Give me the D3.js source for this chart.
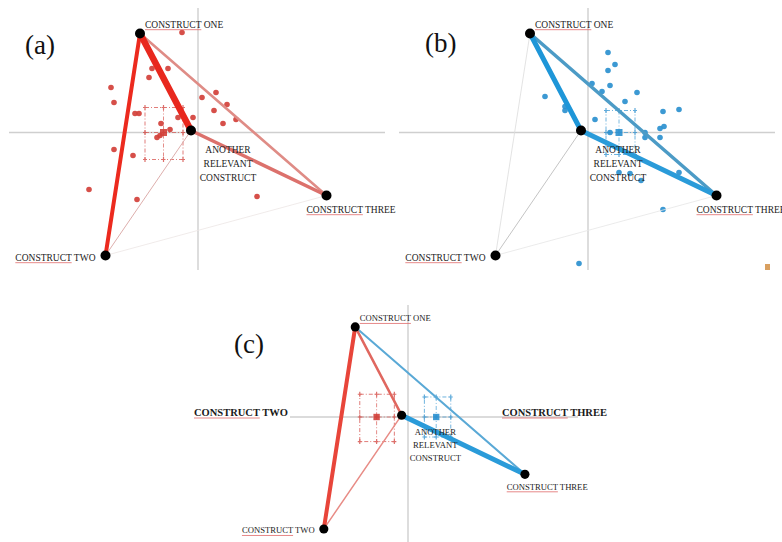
<!DOCTYPE html>
<html><head><meta charset="utf-8">
<script src="https://cdn.jsdelivr.net/npm/d3@7"></script>
<style>html,body{margin:0;padding:0;background:#fff;}svg{display:block;}</style>
</head><body>
<svg id="chart" width="782" height="542"></svg>
<script>
// ---------- data ----------
const constructs = ["CONSTRUCT ONE", "CONSTRUCT TWO", "CONSTRUCT THREE", "ANOTHER RELEVANT CONSTRUCT"];
const constructX = [-0.58, -0.925, 1.285, -0.07];
const constructY = [0.99, -1.23, -0.63, 0.02];

const edgeFrom = [0, 0, 0, 3, 3, 1];
const edgeTo   = [1, 3, 2, 2, 1, 2];
const weightsA = [4, 6.5, 2.5, 3.5, 1, 0.8];
const weightsB = [0.8, 5, 3.5, 5, 1, 0.8];
const weightsC = [4, 2.5, 2, 5, 1.5, 0];
const coloursA = ["#ec2a1e", "#e8281e", "#df8c86", "#dc716c", "#ddaeac", "#ece6e5"];
const coloursB = ["#dcdcdc", "#1e96d8", "#4c9bc6", "#2a9bd9", "#c4c4c4", "#e6e6e6"];
const coloursC = ["#e8453a", "#e0675f", "#5aa9d6", "#2a9bd9", "#e88c86", "#ffffff"];

const redX = [-0.16, -0.46, -0.30, -0.49, -0.87, -0.84, 0.04, 0.18, 0.29, 0.16, 0.38, 0.25, -0.05, -0.20, -0.63, -0.59, -0.37, -0.28, -0.38, -0.41, -0.84, -0.65, -1.09, -0.61, 0.59];
const redY = [1.00, 0.64, 0.64, 0.55, 0.45, 0.30, 0.35, 0.40, 0.28, 0.22, 0.13, 0.09, 0.15, 0.15, 0.19, 0.19, 0.09, 0.03, -0.03, -0.05, -0.17, -0.23, -0.57, -0.67, -0.64];
const blueX = [0.20, 0.27, 0.20, 0.04, 0.14, 0.22, 0.49, -0.43, -0.23, -0.23, 0.37, 0.75, 0.91, 0.07, 0.76, 0.72, 0.22, 0.57, 0.57, 0.72, 0.91, 0.31, 0.42, 0.53, 0.75, -0.09];
const blueY = [0.80, 0.68, 0.62, 0.49, 0.41, 0.47, 0.40, 0.36, 0.26, 0.22, 0.31, 0.21, 0.23, 0.13, 0.06, 0.04, 0.00, 0.00, -0.05, -0.05, -0.40, -0.40, -0.41, -0.48, -0.77, -1.31];

const redMean = [-0.345, 0.0];
const redBox  = [-0.53, -0.15, 0.25, -0.27];   // x0, x1, y0, y1
const blueMean = [0.31, 0.0];
const blueBox  = [0.18, 0.47, 0.22, -0.22];

const panelLetters = ["(a)", "(b)", "(c)"];
const axisLabels = ["CONSTRUCT TWO", "CONSTRUCT THREE"];

// ---------- layout ----------
const RED = "#d2403a", BLUE = "#2b90cf";
const panels = [
  {ox:198, oy:132.5, k:100, hx:[9,385], vy:[8,270], w:weightsA, c:coloursA, dots:"red", boxes:["red"], letter:[25,54], clip:null},
  {ox:588, oy:132.5, k:100, hx:[399,775], vy:[8,270], w:weightsB, c:coloursB, dots:"blue", boxes:["blue"], letter:[425,52], clip:[390,0,392,280]},
  {ox:408, oy:417, k:91, hx:[290,578], vy:[305,542], w:weightsC, c:coloursC, dots:null, boxes:["red","blue"], letter:[234,353], clip:null}
];

const svg = d3.select("#chart");
const FONT = "'Liberation Serif','Times New Roman',serif";

const defs = svg.append("defs");
defs.append("clipPath").attr("id","clipB").append("rect").attr("x",390).attr("y",0).attr("width",392).attr("height",280);

panels.forEach((p, pi) => {
  const s = p.k / 100;
  const x = d3.scaleLinear().domain([-1, 1]).range([p.ox - p.k, p.ox + p.k]);
  const y = d3.scaleLinear().domain([-1, 1]).range([p.oy + p.k, p.oy - p.k]);
  const g = svg.append("g");
  if (p.clip) g.attr("clip-path", "url(#clipB)");

  // axes
  g.append("line").attr("x1", p.hx[0]).attr("x2", p.hx[1]).attr("y1", y(0)).attr("y2", y(0))
    .attr("stroke", "#cfcfcf").attr("stroke-width", 1.4);
  g.append("line").attr("x1", x(0)).attr("x2", x(0)).attr("y1", p.vy[0]).attr("y2", p.vy[1])
    .attr("stroke", "#cfcfcf").attr("stroke-width", 1.4);

  // dots
  if (p.dots) {
    const xs = p.dots === "red" ? redX : blueX;
    const ys = p.dots === "red" ? redY : blueY;
    const col = p.dots === "red" ? RED : BLUE;
    g.selectAll(null).data(d3.range(xs.length)).join("circle")
      .attr("cx", i => x(xs[i])).attr("cy", i => y(ys[i])).attr("r", 2.8)
      .attr("fill", col).attr("opacity", 0.92);
  }

  // summary boxes
  p.boxes.forEach(b => {
    const box = b === "red" ? redBox : blueBox;
    const m = b === "red" ? redMean : blueMean;
    const col = b === "red" ? RED : BLUE;
    const bx0 = x(box[0]), bx1 = x(box[1]), by0 = y(box[2]), by1 = y(box[3]);
    const mx = x(m[0]), my = y(m[1]);
    const bg = g.append("g").attr("stroke", col).attr("fill", "none").attr("opacity", 0.75);
    bg.append("rect").attr("x", bx0).attr("y", by0).attr("width", bx1 - bx0).attr("height", by1 - by0)
      .attr("stroke-width", 0.9).attr("stroke-dasharray", "4,2,1,2");
    bg.append("line").attr("x1", mx).attr("x2", mx).attr("y1", by0).attr("y2", by1)
      .attr("stroke-width", 0.8).attr("stroke-dasharray", "4,2,1,2");
    bg.append("line").attr("x1", bx0).attr("x2", bx1).attr("y1", my).attr("y2", my)
      .attr("stroke-width", 0.8).attr("stroke-dasharray", "4,2,1,2");
    [bx0, mx, bx1].forEach(tx => [by0, my, by1].forEach(ty => {
      bg.append("path").attr("d", `M${tx-2},${ty}H${tx+2}M${tx},${ty-2.5}V${ty+2.5}`).attr("stroke-width", 1.2);
    }));
    g.append("rect").attr("x", mx - 3.5 * s).attr("y", my - 3.5 * s).attr("width", 7 * s).attr("height", 7 * s)
      .attr("fill", col).attr("opacity", 0.9);
  });

  // edges (thin first)
  const order = d3.range(edgeFrom.length).filter(i => p.w[i] > 0).sort((a, b) => p.w[a] - p.w[b]);
  g.selectAll(null).data(order).join("line")
    .attr("x1", i => x(constructX[edgeFrom[i]])).attr("y1", i => y(constructY[edgeFrom[i]]))
    .attr("x2", i => x(constructX[edgeTo[i]])).attr("y2", i => y(constructY[edgeTo[i]]))
    .attr("stroke", i => p.c[i]).attr("stroke-width", i => p.w[i]).attr("stroke-linecap", "round");

  // nodes
  g.selectAll(null).data(d3.range(constructs.length)).join("circle")
    .attr("cx", i => x(constructX[i])).attr("cy", i => y(constructY[i])).attr("r", 5 * s).attr("fill", "#000");

  // labels
  const fs = 9.5 * s;
  const place = [
    {dx: 5, dy: -6, anchor: "start"},
    {dx: -10, dy: 5, anchor: "end"},
    {dx: -20, dy: 17, anchor: "start"},
    {dx: 37, dy: 22, anchor: "middle"}
  ];
  constructs.forEach((name, i) => {
    const px = x(constructX[i]) + place[i].dx * s;
    const py = y(constructY[i]) + place[i].dy * s;
    if (i === 3) {
      name.split(" ").forEach((w, j) => {
        g.append("text").attr("x", px).attr("y", py + j * 14 * s).attr("text-anchor", "middle")
          .attr("font-family", FONT).attr("font-size", fs).attr("fill", "#222").text(w);
      });
    } else {
      const t = g.append("text").attr("x", px).attr("y", py).attr("text-anchor", place[i].anchor)
        .attr("font-family", FONT).attr("font-size", fs).attr("fill", "#222").text(name);
      const bb = t.node().getBBox();
      const sub = t.node().getSubStringLength(0, 9);
      g.append("line").attr("x1", bb.x).attr("x2", bb.x + sub).attr("y1", py + 2.2 * s).attr("y2", py + 2.2 * s)
        .attr("stroke", "#e06a6a").attr("stroke-width", 0.8);
    }
  });

  // panel letter
  svg.append("text").attr("x", p.letter[0]).attr("y", p.letter[1])
    .attr("font-family", FONT).attr("font-size", 27).attr("fill", "#111").text(panelLetters[pi]);

  // bold axis labels in (c)
  if (pi === 2) {
    const ax = [[194, 416], [502, 416]];
    axisLabels.forEach((lab, j) => {
      const t = svg.append("text").attr("x", ax[j][0]).attr("y", ax[j][1])
        .attr("font-family", FONT).attr("font-weight", "bold").attr("font-size", 10.5)
        .attr("fill", "#1a1a1a").text(lab);
      const sub = t.node().getSubStringLength(0, 9);
      svg.append("line").attr("x1", ax[j][0]).attr("x2", ax[j][0] + sub).attr("y1", ax[j][1] + 2).attr("y2", ax[j][1] + 2)
        .attr("stroke", "#e06a6a").attr("stroke-width", 0.8);
    });
  }
});

// small icon at lower right of panel (b)
svg.append("rect").attr("x", 765).attr("y", 264).attr("width", 5).attr("height", 6).attr("fill", "#d9a060");
</script>
</body></html>
